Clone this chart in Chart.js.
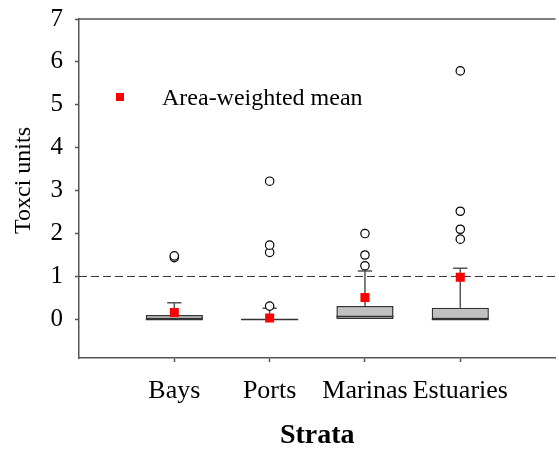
<!DOCTYPE html>
<html>
<head>
<meta charset="utf-8">
<script src="https://cdn.jsdelivr.net/npm/chart.js@4.4.1/dist/chart.umd.min.js"></script>
<style>
    html, body { margin: 0; padding: 0; background: #fff; overflow: hidden; }
    canvas { display: block; }
</style>
</head>
<body>
<canvas id="myChart" width="562" height="451"></canvas>
<script>
// Strata on the x axis
const categories = ['Bays', 'Ports', 'Marinas', 'Estuaries'];
// Box parts (toxic units)
const q1Values = [0, 0, 0, 0];
const medianValues = [0, 0, 0.07, 0];
const q3Values = [0.1, 0, 0.31, 0.27];
const whiskerTop = [0.39, 0.26, 1.13, 1.19];
// Area-weighted means
const meanValues = [0.16, 0.03, 0.51, 0.98];
// Outliers per stratum
const outlierValues = [
    [1.44, 1.48],
    [0.31, 1.56, 1.73, 3.22],
    [1.25, 1.5, 2.0],
    [1.87, 2.1, 2.52, 5.79]
];
// y ticks and reference line
const yTicks = [0, 1, 2, 3, 4, 5, 6, 7];
const refLine = 1;
const yTitle = 'Toxci units';

const serif = 'Liberation Serif';
const axisColor = '#555';
const boxWidth = 0.6;   // in category units
const capWidth = 0.15;

// build points for the library
const boxData = categories.map((c, i) => ({ x: i + 1, y: [q1Values[i], q3Values[i]] }));
const meanData = meanValues.map((v, i) => ({ x: i + 1, y: v }));
const outlierData = [];
outlierValues.forEach((list, i) => {
    list.forEach(v => outlierData.push({ x: i + 1, y: v }));
});

// whiskers, medians, dashed line, frame, y title and legend
const boxParts = {
    id: 'boxParts',
    beforeDatasetsDraw(chart) {
        const { ctx, chartArea, scales: { x, y } } = chart;
        ctx.save();
        // dashed line at 1
        const yr = y.getPixelForValue(refLine);
        ctx.strokeStyle = '#333';
        ctx.lineWidth = 1;
        ctx.setLineDash([8, 4]);
        ctx.beginPath();
        ctx.moveTo(chartArea.left, yr);
        ctx.lineTo(chartArea.right, yr);
        ctx.stroke();
        ctx.setLineDash([]);
        // whiskers + caps
        ctx.strokeStyle = axisColor;
        ctx.lineWidth = 1.5;
        categories.forEach((c, i) => {
            const cx = x.getPixelForValue(i + 1);
            const half = x.getPixelForValue(i + 1 + capWidth / 2) - cx;
            const yTop = y.getPixelForValue(whiskerTop[i]);
            ctx.beginPath();
            ctx.moveTo(cx, y.getPixelForValue(q3Values[i]));
            ctx.lineTo(cx, yTop);
            ctx.moveTo(cx - half, yTop);
            ctx.lineTo(cx + half, yTop);
            ctx.stroke();
        });
        ctx.restore();
    },
    afterDatasetDraw(chart, args) {
        if (args.index !== 0) return;
        const { ctx, scales: { x, y } } = chart;
        ctx.save();
        ctx.strokeStyle = '#333';
        ctx.lineWidth = 1.5;
        categories.forEach((c, i) => {
            const cx = x.getPixelForValue(i + 1);
            const half = x.getPixelForValue(i + 1 + boxWidth / 2) - cx;
            const ym = y.getPixelForValue(medianValues[i]);
            ctx.beginPath();
            ctx.moveTo(cx - half, ym);
            ctx.lineTo(cx + half, ym);
            ctx.stroke();
        });
        ctx.restore();
    },
    afterDraw(chart) {
        const { ctx, chartArea } = chart;
        ctx.save();
        // top frame line
        ctx.strokeStyle = axisColor;
        ctx.lineWidth = 1.5;
        ctx.beginPath();
        ctx.moveTo(chartArea.left, chartArea.top);
        ctx.lineTo(chartArea.right, chartArea.top);
        ctx.stroke();
        // y axis title, sits a bit above the middle like the original
        ctx.save();
        ctx.translate(24, (chartArea.top + chartArea.bottom) / 2 - 8);
        ctx.rotate(-Math.PI / 2);
        ctx.fillStyle = '#000';
        ctx.font = '24px "' + serif + '"';
        ctx.textAlign = 'center';
        ctx.textBaseline = 'middle';
        ctx.fillText(yTitle, 0, 0);
        ctx.restore();
        // legend
        ctx.fillStyle = '#ff0000';
        ctx.fillRect(chartArea.left + 37, chartArea.top + 74, 8, 8);
        ctx.fillStyle = '#000';
        ctx.font = '24px "' + serif + '"';
        ctx.textBaseline = 'alphabetic';
        ctx.fillText('Area-weighted mean', chartArea.left + 83, chartArea.top + 86);
        ctx.restore();
    }
};

const ctx = document.querySelector('#myChart').getContext('2d');
const myChart = new Chart(ctx, {
    type: 'scatter',
    data: {
        datasets: [
            {
                type: 'bar',
                label: 'Box',
                data: boxData,
                backgroundColor: '#c0c0c0',
                borderColor: '#333',
                borderWidth: 1.5,
                borderSkipped: false,
                categoryPercentage: 1,
                barPercentage: boxWidth,
                order: 3
            },
            {
                label: 'Outliers',
                data: outlierData,
                pointStyle: 'circle',
                pointRadius: 4.2,
                pointBackgroundColor: '#fff',
                pointBorderColor: '#000',
                pointBorderWidth: 1.2,
                order: 2
            },
            {
                label: 'Area-weighted mean',
                data: meanData,
                pointStyle: 'rect',
                pointRadius: 6.4,
                pointBackgroundColor: '#ff0000',
                pointBorderColor: '#ff0000',
                pointBorderWidth: 0,
                order: 1
            }
        ]
    },
    options: {
        responsive: false,
        animation: false,
        events: [],
        layout: { padding: { top: 19, left: 0, right: 0, bottom: 0 } },
        plugins: {
            legend: { display: false },
            tooltip: { enabled: false }
        },
        scales: {
            x: {
                type: 'linear',
                min: 0,
                max: categories.length + 1,
                offset: false,
                afterBuildTicks: (scale) => {
                    scale.ticks = categories.map((c, i) => ({ value: i + 1 }));
                },
                afterFit: (scale) => {
                    scale.height = 93;
                    scale.paddingLeft = 0;
                    scale.paddingRight = 0;
                },
                grid: { offset: false, drawOnChartArea: false, tickLength: 4, tickColor: axisColor, tickWidth: 1.5 },
                border: { display: true, color: axisColor, width: 1.5 },
                ticks: {
                    autoSkip: false,
                    maxRotation: 0,
                    padding: 14,
                    color: '#000',
                    font: { family: serif, size: 26 },
                    callback: (v) => categories[v - 1] || ''
                },
                title: {
                    display: true,
                    text: 'Strata',
                    color: '#000',
                    font: { family: serif, size: 28, weight: 'bold', lineHeight: 1 },
                    padding: { top: 0, bottom: 1 }
                }
            },
            y: {
                min: -0.9,
                max: 7,
                afterBuildTicks: (scale) => {
                    scale.ticks = yTicks.map(v => ({ value: v }));
                },
                afterFit: (scale) => {
                    scale.width = 79;
                    scale.paddingTop = 0;
                    scale.paddingBottom = 0;
                },
                grid: { drawOnChartArea: false, tickLength: 4, tickColor: axisColor, tickWidth: 1.5 },
                border: { display: true, color: axisColor, width: 1.5 },
                ticks: {
                    padding: 12,
                    color: '#000',
                    font: { family: serif, size: 25 }
                },
                title: { display: false }
            }
        }
    },
    plugins: [boxParts]
});
</script>
</body>
</html>
